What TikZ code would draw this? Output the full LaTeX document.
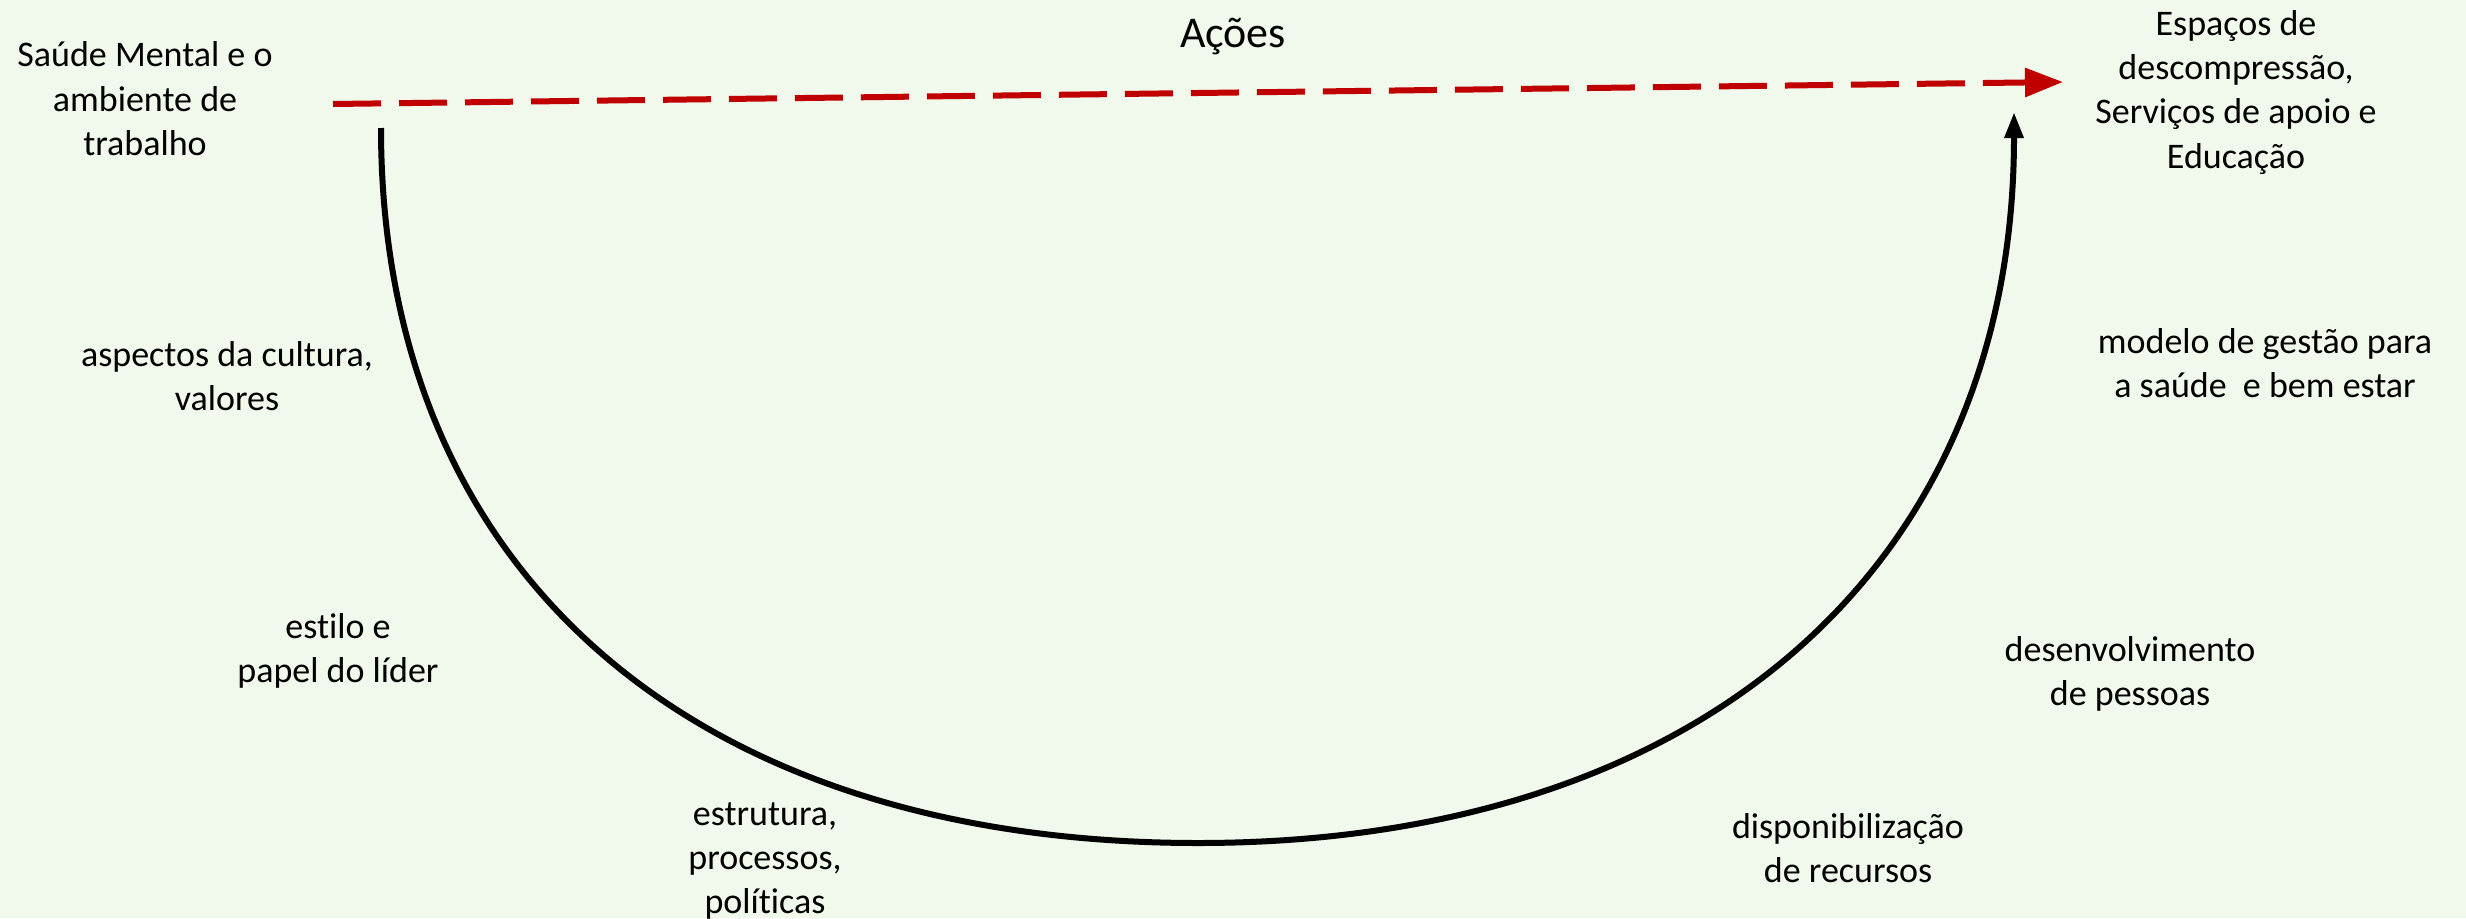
\documentclass[tikz,border=0pt]{standalone}
\usepackage{fontspec}
\setmainfont{Carlito}[Ligatures = NoCommon]
\usetikzlibrary{arrows.meta}
\definecolor{fundo}{RGB}{241,248,236}
\definecolor{vermelho}{RGB}{192,0,0}
\tikzset{
    rotulo/.style = {align = center, anchor = base, inner sep = 0pt,
        font = \fontsize{10.24}{12.52}\selectfont},
    linha/.style = {line width = 0.06cm},
}

\begin{document}
\begin{tikzpicture}
        \fill [fundo] (0, 0) rectangle (24.66, -9.18);
        \useasboundingbox (0, 0) rectangle (24.66, -9.18);

        % base = baseline of the last line
        \node [rotulo] (saude) at (1.45, -1.55) {Saúde Mental e o\\ambiente de\\trabalho};
        \node [rotulo, font = \fontsize{12.5}{15}\selectfont] (acoes) at (12.33, -0.47) {Ações};
        \node [rotulo] (espacos) at (22.36, -1.68) {Espaços de\\descompressão,\\Serviços de apoio e\\Educação};
        \node [rotulo] (cultura) at (2.27, -4.10) {aspectos da cultura,\\valores};
        \node [rotulo] (lider) at (3.38, -6.82) {estilo e\\papel do líder};
        \node [rotulo] (estrutura) at (7.65, -9.13) {estrutura,\\processos,\\políticas};
        \node [rotulo] (recursos) at (18.48, -8.82) {disponibilização\\de recursos};
        \node [rotulo] (pessoas) at (21.30, -7.05) {desenvolvimento\\de pessoas};
        \node [rotulo] (gestao) at (22.65, -3.97) {modelo de gestão para\\a saúde~ e bem estar};

        \coordinate (i) at (3.33, -1.04);
        \coordinate (f) at (20.63, -0.82);
        \coordinate (a) at (3.81, -1.28);
        \coordinate (b) at (11.98, -8.43);
        \coordinate (c) at (20.14, -1.12);

        \draw [linha, vermelho, dash pattern = on 0.48cm off 0.18cm,
            -{Triangle[length = 0.38cm, width = 0.28cm]}] (i) -- (f);
        \draw [linha, -{Triangle[length = 0.26cm, width = 0.18cm]}]
            (a) .. controls +(0, -4.43) and +(-5.07, 0) .. (b)
                .. controls +(5.06, 0) and +(0, -4.53) .. (c);
    \end{tikzpicture}
\end{document}
